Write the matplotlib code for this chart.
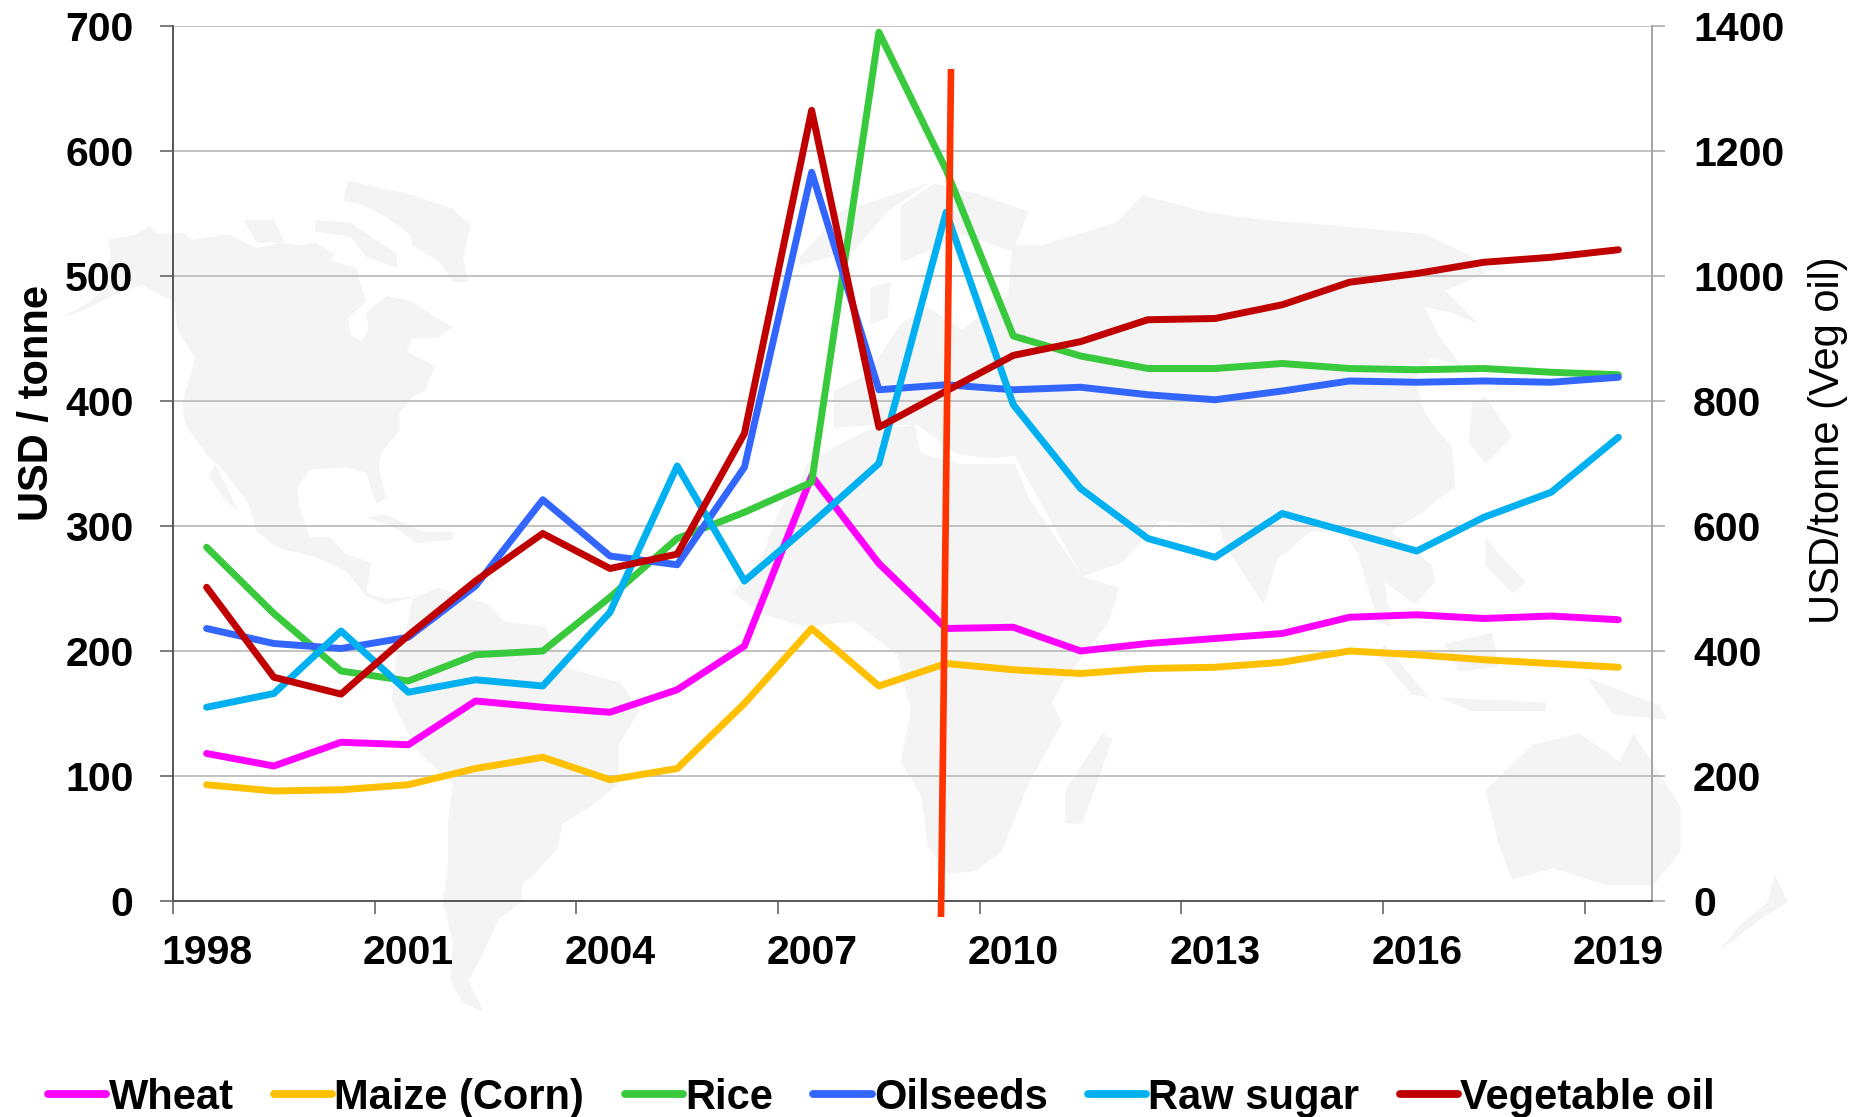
import matplotlib
matplotlib.use('Agg')
import matplotlib.pyplot as plt
from matplotlib.lines import Line2D
from matplotlib.patches import Polygon

plt.rcParams['font.family'] = ['Liberation Sans', 'DejaVu Sans']

W, H = 1854, 1117

years = list(range(1998, 2020))
wheat = [118, 108, 127, 125, 160, 155, 151, 169, 204, 340, 270, 218, 219, 200, 206, 210, 214, 227, 229, 226, 228, 225]
maize = [93, 88, 89, 93, 106, 115, 97, 106, 158, 218, 172, 190, 185, 182, 186, 187, 191, 200, 197, 193, 190, 187]
rice = [283, 230, 184, 176, 197, 200, 243, 290, 311, 335, 695, 585, 452, 436, 426, 426, 430, 426, 425, 426, 423, 421]
oilseeds = [218, 206, 202, 211, 252, 321, 276, 269, 347, 583, 409, 413, 409, 411, 405, 401, 408, 416, 415, 416, 415, 419]
raw_sugar = [155, 166, 216, 167, 177, 172, 231, 348, 256, 302, 350, 551, 397, 330, 290, 275, 310, 295, 280, 307, 327, 371]
veg_oil = [502, 358, 331, 425, 512, 588, 532, 555, 748, 1265, 758, 816, 873, 895, 930, 932, 954, 990, 1004, 1022, 1030, 1042]

names = ['Wheat', 'Maize (Corn)', 'Rice', 'Oilseeds', 'Raw sugar', 'Vegetable oil']
colors = ['#FF00FF', '#FFC000', '#38C93C', '#3366FF', '#00B0F0', '#C00000']

# background world map, rough outlines read off the zoomed crops
map_left = [
    [(5,298),(50,275),(85,250),(80,225),(100,190),(95,160),(150,150),(175,135),(190,150),(240,148),(260,160),(330,150),(385,175),(430,165),(470,170),(500,165),(540,185),(480,240),(520,195),(580,210),(600,270),(565,300),(570,330),(590,340),(605,320),(600,290),(640,260),(690,270),(730,295),(770,315),(740,335),(690,335),(680,360),(735,385),(715,430),(690,440),(665,470),(665,500),(630,540),(625,570),(640,620),(620,630),(600,575),(560,565),(490,570),(465,600),(470,640),(490,690),(530,690),(560,720),(610,735),(600,790),(640,800),(700,795),(640,810),(600,795),(560,750),(500,725),(430,710),(385,680),(370,630),(310,560),(290,545),(245,490),(240,450),(265,370),(230,320),(225,270),(200,260),(160,240),(100,260),(50,285)],
    [(305,560),(350,645),(320,620),(290,580)],
    [(555,90),(565,55),(690,80),(770,105),(805,135),(790,190),(800,235),(770,235),(745,200),(690,170),(685,150),(640,120),(600,100)],
    [(360,125),(420,125),(440,165),(385,165)],
    [(500,125),(570,130),(660,185),(660,210),(600,190),(570,155),(500,145)],
    [(600,655),(640,650),(710,680),(770,680),(770,695),(700,700),(650,670)],
    [(680,850),(690,800),(740,780),(840,810),(870,840),(950,850),(1000,925),(1100,950),(1135,1000),(1095,1060),(1095,1130),(1040,1170),(985,1200),(975,1245),(930,1290),(905,1310),(905,1340),(860,1370),(825,1440),(800,1480),(830,1535),(790,1520),(765,1480),(770,1410),(750,1340),(760,1280),(760,1200),(770,1130),(700,1070),(650,980),(660,900)],
]
map_right = [
    [(-55,720),(-30,640),(0,590),(10,560),(50,530),(100,500),(170,490),(180,540),(240,560),(320,560),(340,620),(420,760),(475,780),(460,840),(390,950),(375,985),(390,1020),(340,1130),(300,1250),(260,1285),(220,1290),(190,1240),(180,1150),(150,1090),(165,1000),(145,900),(80,840),(10,850),(-50,830),(-100,790)],
    [(50,495),(50,430),(100,400),(150,310),(190,280),(240,320),(310,260),(315,180),(240,150),(200,175),(150,200),(150,100),(200,60),(270,80),(340,110),(320,170),(360,170),(400,155),(470,130),(510,80),(600,110),(690,125),(800,135),(930,150),(1000,190),(1020,220),(960,250),(1010,310),(970,290),(930,280),(950,330),(985,385),(940,370),(915,410),(930,470),(970,530),(975,600),(920,650),(880,680),(940,740),(945,770),(915,810),(870,770),(880,850),(860,840),(830,720),(810,680),(760,680),(710,730),(690,810),(630,700),(625,670),(535,660),(480,735),(420,760),(340,590),(320,545),(280,550),(230,540),(175,490),(110,490)],
    [(105,245),(135,235),(130,300),(105,310)],
    [(0,190),(60,110),(190,60),(130,110),(80,180),(0,205)],
    [(450,1040),(465,1050),(420,1200),(395,1200),(395,1140)],
    [(1000,450),(1020,440),(1060,510),(1020,560),(995,520)],
    [(1020,690),(1040,720),(1080,770),(1060,790),(1020,740)],
    [(960,880),(1030,860),(1040,920),(980,930)],
    [(870,880),(935,975),(910,970),(860,900)],
    [(950,975),(1110,985),(1110,1000),(1000,1000)],
    [(1170,940),(1280,990),(1290,1015),(1210,1005)],
    [(1020,1140),(1090,1060),(1160,1040),(1220,1090),(1240,1040),(1310,1170),(1310,1250),(1270,1310),(1200,1310),(1120,1280),(1060,1300),(1040,1240)],
    [(1450,1290),(1470,1340),(1430,1370),(1370,1425),(1400,1380),(1440,1340)],
]

fig = plt.figure(figsize=(W / 100, H / 100), dpi=100)

bg = fig.add_axes([0, 0, 1, 1], zorder=0)
bg.set_xlim(0, W)
bg.set_ylim(H, 0)
bg.axis('off')
for poly in map_left:
    pts = [(x / 1.96 + 60, y / 1.782 + 150) for x, y in poly]
    bg.add_patch(Polygon(pts, closed=True, fc='#F4F4F4', ec='none'))
for poly in map_right:
    pts = [(x / 1.488 + 800, y / 1.782 + 150) for x, y in poly]
    bg.add_patch(Polygon(pts, closed=True, fc='#F4F4F4', ec='none'))

ax = fig.add_axes([173 / W, 1 - 901 / H, (1652 - 173) / W, (901 - 26) / H], zorder=1)
ax.patch.set_alpha(0)
ax2 = ax.twinx()
ax2.patch.set_alpha(0)

xs = [i + 0.5 for i in range(len(years))]
lw = 5.0
for vals, name, c in zip([wheat, maize, rice, oilseeds, raw_sugar], names, colors):
    ax.plot(xs, vals, color=c, lw=lw, solid_capstyle='round', solid_joinstyle='round', label=name, clip_on=False)
ax2.plot(xs, veg_oil, color=colors[5], lw=lw, solid_capstyle='round', solid_joinstyle='round', label=names[5], clip_on=False)

ax.set_xlim(0, 22)
ax.set_ylim(0, 700)
ax2.set_ylim(0, 1400)

ax.set_yticks(range(0, 701, 100))
ax2.set_yticks(range(0, 1401, 200))
ax.grid(axis='y', color='#BDBDBD', lw=1.3)
ax.set_axisbelow(True)

# ticks sit on category edges, labels on the category centres
ax.set_xticks([i for i in range(0, 22, 3)])
ax.set_xticklabels([])
ax.set_xticks([i + 0.5 for i in range(0, 22, 3)], minor=True)
ax.set_xticklabels([str(years[i]) for i in range(0, 22, 3)], minor=True, fontsize=29.5, fontweight='bold')
ax.tick_params(axis='x', which='major', length=9.5, width=1.1, color='#595959')
ax.tick_params(axis='x', which='minor', length=0, pad=24)
ax.tick_params(axis='y', length=9.5, width=1.1, color='#595959', pad=19, labelsize=29.5)
ax2.tick_params(axis='y', length=9.5, width=1.1, color='#A6A6A6', pad=20, labelsize=29.5)
for lab in ax.get_yticklabels() + ax2.get_yticklabels():
    lab.set_fontweight('bold')

for a in (ax, ax2):
    a.spines['top'].set_visible(False)
    a.spines['left'].set_color('#595959')
    a.spines['bottom'].set_color('#595959')
    a.spines['right'].set_color('#A6A6A6')
    a.spines['left'].set_linewidth(1.3)
    a.spines['bottom'].set_linewidth(1.3)
    a.spines['right'].set_linewidth(1.3)

fig.text(37 / W, 1 - 403 / H, 'USD / tonne', rotation=90, ha='center', va='center', fontsize=30, fontweight='bold')
fig.text(1828 / W, 1 - 440 / H, 'USD/tonne (Veg oil)', rotation=90, ha='center', va='center', fontsize=30)

# red marker line, from the forecast start
fig.add_artist(Line2D([941 / W, 951 / W], [1 - 917 / H, 1 - 69 / H], color='#FF3300', lw=4.8, solid_capstyle='butt', zorder=5))

handles = [Line2D([0], [0], color=c, lw=5.6, solid_capstyle='round') for c in colors]
fig.legend(handles, names, loc='center', bbox_to_anchor=(0.4755, 1 - 1098 / H), ncol=6, frameon=False,
           prop={'size': 30, 'weight': 'bold'}, handlelength=1.4, handletextpad=0.05, columnspacing=0.97,
           borderpad=0, borderaxespad=0)

plt.savefig('out.png', dpi=100)
